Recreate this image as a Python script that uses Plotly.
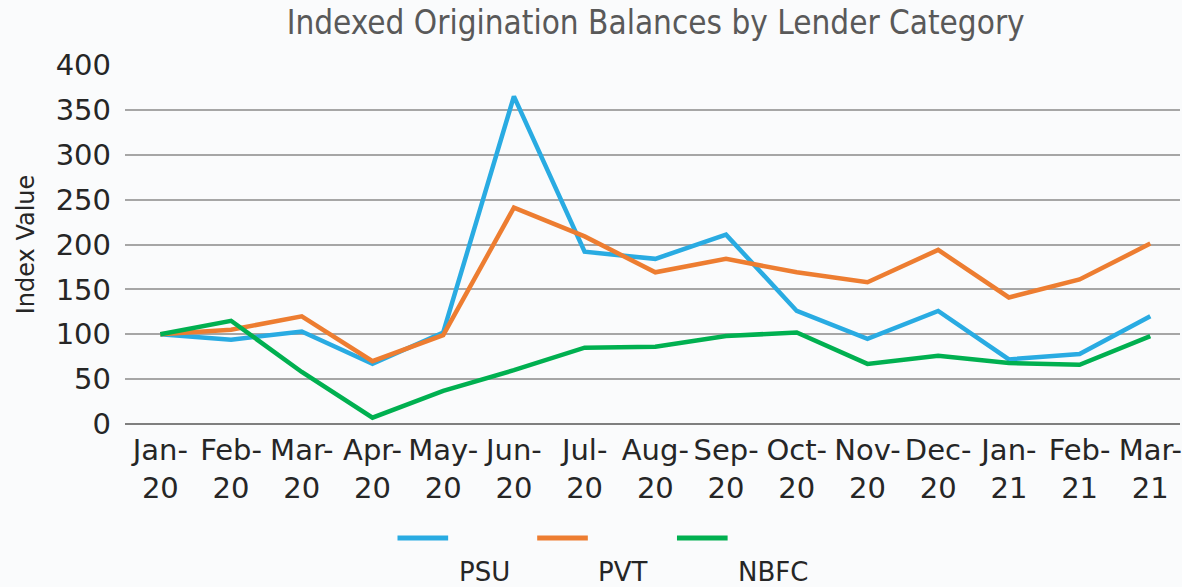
import plotly.graph_objects as go

months = ["Jan-<br>20", "Feb-<br>20", "Mar-<br>20", "Apr-<br>20", "May-<br>20", "Jun-<br>20",
          "Jul-<br>20", "Aug-<br>20", "Sep-<br>20", "Oct-<br>20", "Nov-<br>20", "Dec-<br>20",
          "Jan-<br>21", "Feb-<br>21", "Mar-<br>21"]
psu = [100, 94, 103, 67, 102, 365, 192, 184, 211, 126, 95, 126, 72, 78, 120]
pvt = [100, 105, 120, 70, 99, 241, 209, 169, 184, 169, 158, 194, 141, 161, 201]
nbfc = [100, 115, 58, 7, 37, 60, 85, 86, 98, 102, 67, 76, 68, 66, 98]

series = [("PSU", psu, "#29abe2"), ("PVT", pvt, "#ed7d31"), ("NBFC", nbfc, "#00b050")]

fig = go.Figure()
for name, vals, color in series:
    fig.add_trace(go.Scatter(x=months, y=vals, name=name, mode="lines",
                             line=dict(color=color, width=4.5), showlegend=False))

# legend drawn by hand: line sample above the name
leg_x = [0.2583, 0.3907, 0.5232]
for (name, vals, color), lx in zip(series, leg_x):
    fig.add_shape(type="line", xref="paper", yref="paper",
                  x0=lx, x1=lx + 0.048, y0=-0.3175, y1=-0.3175,
                  line=dict(color=color, width=5))
    fig.add_annotation(text=name, xref="paper", yref="paper", x=lx + 0.056, y=-0.412,
                       xanchor="left", yanchor="middle", showarrow=False,
                       font=dict(size=26, color="#262626"))

fig.update_layout(
    width=1182, height=587,
    paper_bgcolor="#fafbfc", plot_bgcolor="rgba(0,0,0,0)",
    font=dict(family="DejaVu Sans", color="#262626"),
    title=dict(text="Indexed Origination Balances by Lender Category", xref="paper", x=0.503,
               y=0.962, xanchor="center", yanchor="middle",
               font=dict(family="DejaVu Sans Condensed, DejaVu Sans", size=33, color="#595959")),
    margin=dict(l=125, r=0, t=65, b=163),
    xaxis=dict(showgrid=False, tickfont=dict(size=29), ticks="", showline=False,
               range=[-0.5, 14.42], ticklabelstandoff=6),
    yaxis=dict(range=[0, 400], dtick=50, gridcolor="#a6a6a6", gridwidth=1.5,
               tickfont=dict(size=29), ticklabelstandoff=13,
               zeroline=True, zerolinecolor="#7f7f7f", zerolinewidth=2,
               title=dict(text="Index Value", font=dict(size=24), standoff=14)),
)

fig.write_html("out.html", config={"displayModeBar": False},
               post_script="document.body.style.margin='0';document.body.style.overflow='hidden';")
